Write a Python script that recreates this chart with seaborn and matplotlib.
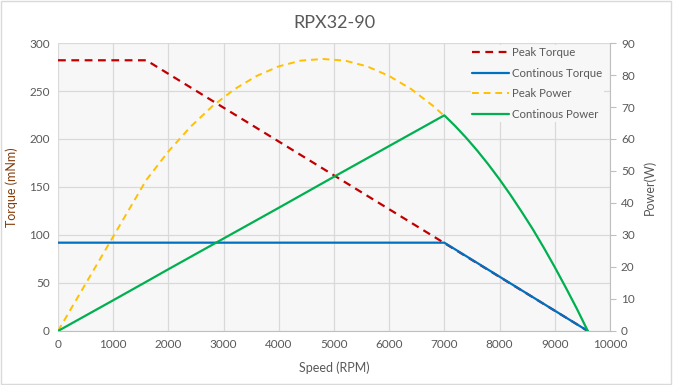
import pandas as pd
import matplotlib.pyplot as plt
import seaborn as sns

# Motor curve data (speed in RPM)
peak_torque_rpm = [0, 1600, 7000, 9600]
peak_torque = [282, 282, 91.6, 0]

cont_torque_rpm = [0, 7000, 9600]
cont_torque = [92, 92, 0]

peak_power_rpm = [0, 400, 800, 1200, 1600, 2000, 2400, 2800, 3200, 3600, 4000,
                  4400, 4800, 5200, 5600, 6000, 6400, 6800, 7000]
peak_power = [0, 11.8, 23.6, 35.4, 47.2, 56.1, 63.8, 70.3, 75.6, 79.7, 82.7,
              84.5, 85.0, 84.5, 82.7, 79.7, 75.6, 70.3, 67.2]

cont_power_rpm = [0, 1000, 1600, 2000, 3000, 4000, 5000, 6000, 7000,
                  7200, 7400, 7600, 7800, 8000, 8200, 8400, 8600, 8800,
                  9000, 9200, 9400, 9600]
cont_power = [0, 9.6, 15.4, 19.3, 28.9, 38.5, 48.2, 57.8, 67.4,
              64.0, 60.3, 56.3, 52.0, 47.4, 42.5, 37.3, 31.9, 26.1,
              20.0, 13.6, 7.0, 0]

text_col = '#595959'
grid_col = '#d9d9d9'

sns.set_style('white')
plt.rcParams['font.family'] = ['Lato', 'DejaVu Sans']

fig = plt.figure(figsize=(6.73, 3.85), dpi=100)
fig.patch.set_facecolor('white')
ax = fig.add_axes([0.0862, 0.1403, 0.8200, 0.7480])
ax2 = ax.twinx()
ax.set_facecolor('#f7f7f7')

df_pt = pd.DataFrame({'rpm': peak_torque_rpm, 'val': peak_torque})
df_ct = pd.DataFrame({'rpm': cont_torque_rpm, 'val': cont_torque})
df_pp = pd.DataFrame({'rpm': peak_power_rpm, 'val': peak_power})
df_cp = pd.DataFrame({'rpm': cont_power_rpm, 'val': cont_power})

sns.lineplot(data=df_pt, x='rpm', y='val', ax=ax, color='#c00000', lw=1.6,
             linestyle=(0, (3.5, 2.5)), label='Peak Torque', sort=False, legend=False)
sns.lineplot(data=df_ct, x='rpm', y='val', ax=ax, color='#0070c0', lw=1.6,
             label='Continous Torque', sort=False, legend=False)
sns.lineplot(data=df_pp, x='rpm', y='val', ax=ax2, color='#ffc000', lw=1.4,
             linestyle=(0, (3.5, 2.5)), label='Peak Power', sort=False, legend=False)
sns.lineplot(data=df_cp, x='rpm', y='val', ax=ax2, color='#00b050', lw=1.6,
             label='Continous Power', sort=False, legend=False)

ax.set_xlim(0, 10000)
ax.set_ylim(0, 300)
ax2.set_ylim(0, 90)
ax.set_xticks(range(0, 10001, 1000))
ax.set_yticks(range(0, 301, 50))
ax2.set_yticks(range(0, 91, 10))

ax.grid(True, color=grid_col, lw=0.9)
ax.set_axisbelow(True)
for a in (ax, ax2):
    for s in a.spines.values():
        s.set_visible(False)
ax.spines['bottom'].set_visible(True)
ax.spines['bottom'].set_color('#bfbfbf')
ax2.spines['right'].set_visible(True)
ax2.spines['right'].set_color('#bfbfbf')

ax.tick_params(axis='both', length=0, labelsize=8.5, colors=text_col, pad=6)
ax2.tick_params(axis='y', length=4, labelsize=8.5, colors=text_col, pad=4)
ax2.tick_params(axis='y', color='#bfbfbf')

ax.set_xlabel('Speed (RPM)', fontsize=9, color=text_col, labelpad=8)
ax.set_ylabel('Torque (mNm)', fontsize=9, color='#843c0c', labelpad=8)
ax2.set_ylabel('Power(W)', fontsize=9, color=text_col, labelpad=6)
ax.set_title('RPX32-90', fontsize=13, color=text_col, pad=11)

h1, l1 = ax.get_legend_handles_labels()
h2, l2 = ax2.get_legend_handles_labels()
leg = ax2.legend(h1 + h2, l1 + l2, loc='upper right', bbox_to_anchor=(1.0, 1.012),
                 frameon=True, fontsize=8.2, handlelength=3.2, handletextpad=0.3,
                 labelspacing=0.85, borderpad=0.15)
leg.get_frame().set_facecolor('#f7f7f7')
leg.get_frame().set_edgecolor('none')
leg.get_frame().set_alpha(1)
for t in leg.get_texts():
    t.set_color(text_col)

# chart-area border
fig.add_artist(plt.Rectangle((0.002, 0.003), 0.995, 0.994, transform=fig.transFigure,
                             fill=False, edgecolor='#d9d9d9', lw=1))

plt.savefig('out.png', dpi=100)
plt.close(fig)
